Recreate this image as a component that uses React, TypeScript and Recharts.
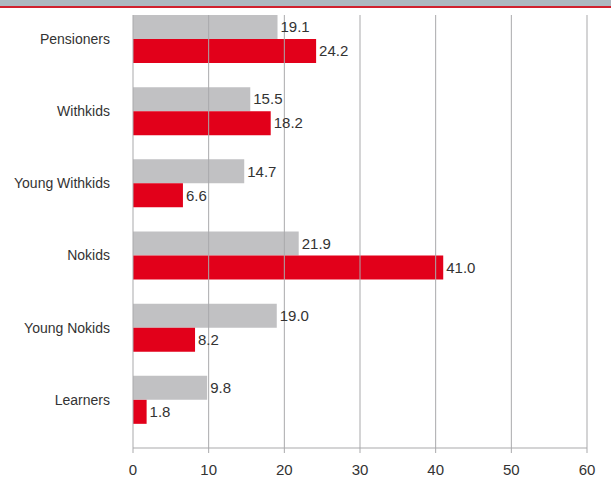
import React from "react";
import { BarChart, Bar, XAxis, YAxis, ReferenceLine, LabelList } from "recharts";

const categories = ["Pensioners", "Withkids", "Young Withkids", "Nokids", "Young Nokids", "Learners"];
const greyValues = [19.1, 15.5, 14.7, 21.9, 19.0, 9.8];
const redValues = [24.2, 18.2, 6.6, 41.0, 8.2, 1.8];
const xTicks = [0, 10, 20, 30, 40, 50, 60];

const data = categories.map((name, i) => ({ name, grey: greyValues[i], red: redValues[i] }));

const FONT = "'Liberation Sans', Arial, sans-serif";

const CatTick = (props: any) => {
  const { x, y, payload } = props;
  return (
    <text x={x - 15} y={y - 12} dy="0.35em" textAnchor="end" fontSize={14} fill="#333" fontFamily={FONT}>
      {payload.value}
    </text>
  );
};

const fmt = (v: any) => (typeof v === "number" ? v.toFixed(1) : v);

export default function App() {
  return (
    <div style={{ position: "absolute", left: 0, top: 0, width: 611, height: 477, background: "#fff" }}>
      <div style={{ position: "absolute", left: 0, top: 0, width: 611, height: 6, background: "#adb8c0" }} />
      <div style={{ position: "absolute", left: 0, top: 6, width: 611, height: 2, background: "#d0202e" }} />
      <BarChart
        width={611}
        height={477}
        data={data}
        layout="vertical"
        margin={{ top: 15, right: 24, bottom: 0, left: 0 }}
        barCategoryGap={0}
        barGap={0}
      >
        <XAxis
          type="number"
          domain={[0, 60]}
          ticks={xTicks}
          height={29}
          stroke="#a9a9ab"
          tickSize={5}
          tickMargin={11}
          tick={{ fontSize: 15, fill: "#333", fontFamily: FONT }}
        />
        <YAxis
          type="category"
          dataKey="name"
          width={133}
          axisLine={false}
          tickLine={false}
          tick={<CatTick />}
        />
        <Bar dataKey="grey" fill="#c1c1c3" isAnimationActive={false}>
          <LabelList dataKey="grey" position="right" offset={3} formatter={fmt} fontSize={15} fill="#333" fontFamily={FONT} />
        </Bar>
        <Bar dataKey="red" fill="#e2001a" isAnimationActive={false}>
          <LabelList dataKey="red" position="right" offset={3} formatter={fmt} fontSize={15} fill="#333" fontFamily={FONT} />
        </Bar>
        <Bar dataKey="spacer" fill="none" isAnimationActive={false} />
        {xTicks.map((t) => (
          <ReferenceLine key={t} x={t} stroke="#a9a9ab" strokeWidth={1} />
        ))}
      </BarChart>
    </div>
  );
}
